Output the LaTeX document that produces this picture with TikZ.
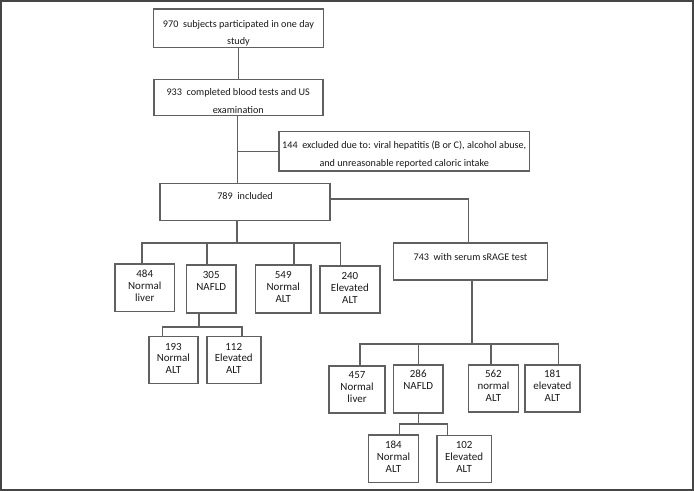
\documentclass[tikz,border=0pt]{standalone}
\usepackage{fontspec}
\setmainfont{Carlito}
\usetikzlibrary{calc}
\definecolor{ln}{HTML}{606060}
\definecolor{fr}{HTML}{454545}
\begin{document}
\begin{tikzpicture}[x=1bp,y=-1bp,
  bx/.style={draw=ln, line width=1.5bp, inner sep=0pt, anchor=north west},
  big/.style={anchor=north, align=center, inner sep=0pt, font=\fontsize{10.2}{17.5}\selectfont, text=black!90},
  sml/.style={anchor=north, align=center, inner sep=0pt, font=\fontsize{11}{12}\selectfont, text=black!90},
  cn/.style={draw=ln, line width=1.5bp}]
\useasboundingbox (0,0) rectangle (694,491);
\draw[fr, line width=1.6bp] (0.8,0.8) rectangle (692.7,489.7);

% large boxes
\node[bx, minimum width=170bp, minimum height=38.4bp] (b1) at (152.7,8.3) {};
\node[bx, minimum width=169bp, minimum height=36bp] (b2) at (153,79) {};
\node[bx, minimum width=250.4bp, minimum height=39.5bp] (b144) at (278.3,131) {};
\node[bx, minimum width=170bp, minimum height=37.3bp] (b789) at (159.3,182.7) {};
\node[bx, minimum width=154bp, minimum height=37bp] (b743) at (392.7,242.3) {};

\node[big] (t1) at ([yshift=-12bp]b1.north) {970\ \ subjects participated in one day\\study};
\node[big] (t2) at ([yshift=-9.5bp]b2.north) {933\ \ completed blood tests and US\\examination};
\node[big] (t144) at ([yshift=-10bp]b144.north) {144\ \ excluded due to: viral hepatitis (B or C), alcohol abuse,\\and unreasonable reported caloric intake};
\node[big] (t789) at ([yshift=-10bp]b789.north) {789\ \ included};
\node[big] (t743) at ([yshift=-11bp]b743.north) {743\ \ with serum sRAGE test};

% small boxes, left
\node[bx, minimum width=59.4bp, minimum height=47.4bp] (L484) at (114.3,263.3) {};
\node[bx, minimum width=49.6bp, minimum height=48bp] (L305) at (185.7,264.3) {};
\node[bx, minimum width=55.6bp, minimum height=48bp] (L549) at (254.7,264.3) {};
\node[bx, minimum width=60.3bp, minimum height=47bp] (L240) at (319,265.3) {};
\node[bx, minimum width=49.3bp, minimum height=47bp] (L193) at (148,335.7) {};
\node[bx, minimum width=54bp, minimum height=47bp] (L112) at (206,335.7) {};

% small boxes, right
\node[bx, minimum width=56bp, minimum height=47.3bp] (R457) at (328.3,365) {};
\node[bx, minimum width=49.6bp, minimum height=48bp] (R286) at (392.7,364.3) {};
\node[bx, minimum width=50bp, minimum height=46.7bp] (R562) at (467.7,364.3) {};
\node[bx, minimum width=55.3bp, minimum height=46.7bp] (R181) at (524,364.3) {};
\node[bx, minimum width=50bp, minimum height=47.4bp] (R184) at (367.7,434.3) {};
\node[bx, minimum width=54.7bp, minimum height=47.2bp] (R102) at (436,434.5) {};

\node[sml] (tL484) at ([yshift=-7bp]L484.north) {484\\Normal\\liver};
\node[sml] (tL305) at ([yshift=-7bp]L305.north) {305\\NAFLD};
\node[sml] (tL549) at ([yshift=-7bp]L549.north) {549\\Normal\\ALT};
\node[sml] (tL240) at ([yshift=-7bp]L240.north) {240\\Elevated\\ALT};
\node[sml] (tL193) at ([yshift=-7bp]L193.north) {193\\Normal\\ALT};
\node[sml] (tL112) at ([yshift=-7bp]L112.north) {112\\Elevated\\ALT};
\node[sml] (tR457) at ([yshift=-6.5bp]R457.north) {457\\Normal\\liver};
\node[sml] (tR286) at ([yshift=-6bp]R286.north) {286\\NAFLD};
\node[sml] (tR562) at ([yshift=-6bp]R562.north) {562\\normal\\ALT};
\node[sml] (tR181) at ([yshift=-6bp]R181.north) {181\\elevated\\ALT};
\node[sml] (tR184) at ([yshift=-7bp]R184.north) {184\\Normal\\ALT};
\node[sml] (tR102) at ([yshift=-7bp]R102.north) {102\\Elevated\\ALT};

% connectors
\draw[cn] (b1.south) -- (b1.south |- b2.north);
\draw[cn] ([xshift=-0.8bp]b2.south) -- ([xshift=-0.8bp]b2.south |- b789.north);
\draw[cn] (b144.west) -- (b144.west -| b2.south);
\draw[cn] ([yshift=3bp]b789.east) -| ([xshift=-2bp]b743.north);

\draw[cn] ([xshift=-8bp]b789.south) -- ++(0,21.7) -| ([xshift=-2.7bp]L484.north);
\draw[cn] ([xshift=-8bp]b789.south) -- ++(0,21.7) -| ([xshift=-4.2bp]L305.north);
\draw[cn] ([xshift=-8bp]b789.south) -- ++(0,21.7) -| ([xshift=10.8bp]L549.north);
\draw[cn] ([xshift=-8bp]b789.south) -- ++(0,21.7) -| ([xshift=-9.2bp]L240.north);

\draw[cn] ([xshift=-12.5bp]L305.south) -- ++(0,13.4) -| ([xshift=-11bp]L193.north);
\draw[cn] ([xshift=-12.5bp]L305.south) -- ++(0,13.4) -| ([xshift=8.3bp]L112.north);

\draw[cn] ([xshift=1.7bp]b743.south) -- ++(0,63) -| ([xshift=3bp]R457.north);
\draw[cn] ([xshift=1.7bp]b743.south) -- ++(0,63) -| (R286.north);
\draw[cn] ([xshift=1.7bp]b743.south) -- ++(0,63) -| ([xshift=-2.4bp]R562.north);
\draw[cn] ([xshift=1.7bp]b743.south) -- ++(0,63) -| ([xshift=6bp]R181.north);

\draw[cn] (R286.south) -- ++(0,10) -| ([xshift=6bp]R184.north);
\draw[cn] (R286.south) -- ++(0,10) -| ([xshift=-16.4bp]R102.north);
\end{tikzpicture}
\end{document}
